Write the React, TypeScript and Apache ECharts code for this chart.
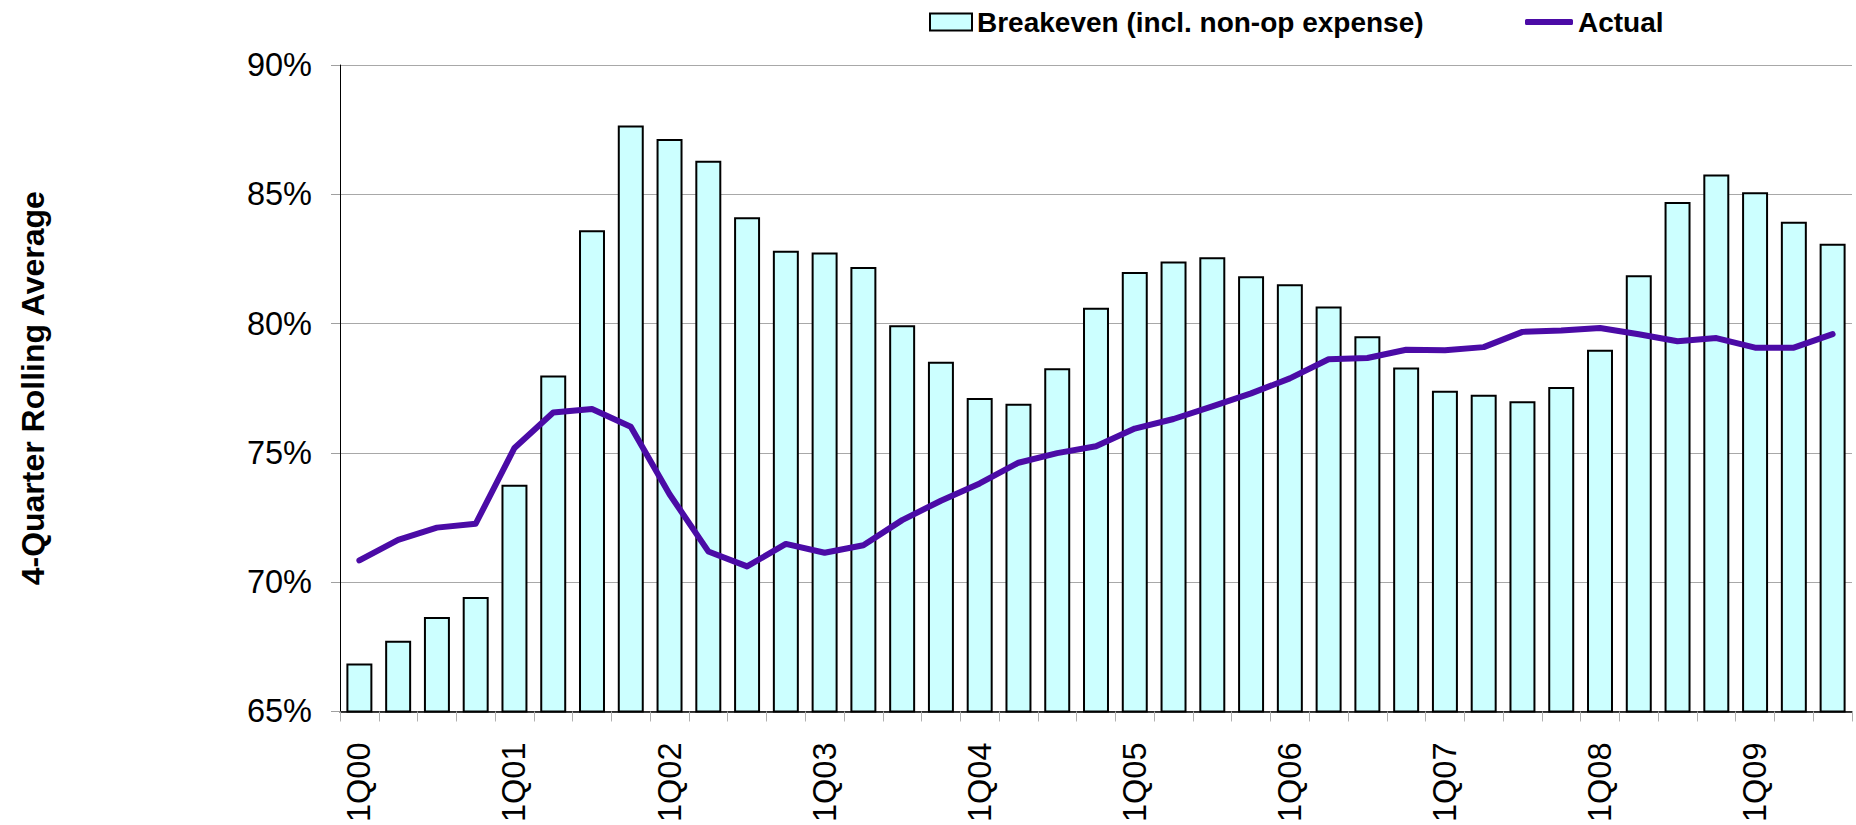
import React, { useEffect, useRef } from "react";
import * as echarts from "echarts";

const quarters = [
  "1Q00", "2Q00", "3Q00", "4Q00",
  "1Q01", "2Q01", "3Q01", "4Q01",
  "1Q02", "2Q02", "3Q02", "4Q02",
  "1Q03", "2Q03", "3Q03", "4Q03",
  "1Q04", "2Q04", "3Q04", "4Q04",
  "1Q05", "2Q05", "3Q05", "4Q05",
  "1Q06", "2Q06", "3Q06", "4Q06",
  "1Q07", "2Q07", "3Q07", "4Q07",
  "1Q08", "2Q08", "3Q08", "4Q08",
  "1Q09", "2Q09", "3Q09",
];

const breakevenName = "Breakeven (incl. non-op expense)";
const actualName = "Actual";

const breakeven = [
  66.86, 67.74, 68.65, 69.43,
  73.77, 77.99, 83.61, 87.66,
  87.14, 86.3, 84.11, 82.82,
  82.75, 82.19, 79.94, 78.52,
  77.12, 76.9, 78.27, 80.61,
  82.0, 82.4, 82.57, 81.83,
  81.52, 80.66, 79.51, 78.3,
  77.4, 77.25, 77.0, 77.55,
  78.99, 81.87, 84.7, 85.77,
  85.08, 83.94, 83.09,
];

const actual = [
  70.84, 71.64, 72.11, 72.26,
  75.19, 76.56, 76.7, 76.01,
  73.4, 71.19, 70.61, 71.48,
  71.14, 71.43, 72.4, 73.15,
  73.82, 74.62, 74.99, 75.26,
  75.94, 76.31, 76.8, 77.3,
  77.88, 78.62, 78.67, 78.99,
  78.97, 79.09, 79.68, 79.73,
  79.83, 79.59, 79.32, 79.44,
  79.07, 79.07, 79.59,
];

const yTicks = { min: 65, max: 90, step: 5 };
const yAxisTitle = "4-Quarter Rolling Average";

const FONT = "'Liberation Sans', Arial, sans-serif";
const PURPLE = "#4B0BA6";

export default function App() {
  const ref = useRef<HTMLDivElement>(null);

  useEffect(() => {
    if (!ref.current) return;
    const chart = echarts.init(ref.current, undefined, { renderer: "svg" });
    const legendText = {
      fontSize: 28,
      fontWeight: "bold" as const,
      color: "#000",
      fontFamily: FONT,
    };
    chart.setOption({
      animation: false,
      backgroundColor: "#fff",
      textStyle: { fontFamily: FONT },
      legend: [
        {
          data: [{ name: breakevenName, icon: "rect" }],
          left: 929,
          top: 8,
          padding: 0,
          itemWidth: 42,
          itemHeight: 17,
          textStyle: legendText,
          selectedMode: false,
        },
        {
          data: [
            {
              name: actualName,
              icon: "roundRect",
              itemStyle: { color: PURPLE, borderWidth: 0 },
            },
          ],
          left: 1525,
          top: 8,
          padding: 0,
          itemWidth: 48,
          itemHeight: 6,
          textStyle: legendText,
          selectedMode: false,
        },
      ],
      grid: { left: 340, right: 4, top: 65, bottom: 112, containLabel: false },
      xAxis: {
        type: "category",
        data: quarters,
        boundaryGap: true,
        axisLine: { show: true, lineStyle: { color: "#000", width: 1.5 } },
        axisTick: {
          show: true,
          interval: 0,
          length: 10,
          lineStyle: { color: "#b0b0b0", width: 1 },
        },
        axisLabel: {
          interval: 3,
          rotate: 90,
          margin: 31,
          fontSize: 32.5,
          color: "#000",
          fontFamily: FONT,
        },
        splitLine: { show: false },
      },
      yAxis: {
        type: "value",
        min: yTicks.min,
        max: yTicks.max,
        interval: yTicks.step,
        name: yAxisTitle,
        nameLocation: "middle",
        nameRotate: 90,
        nameGap: 291,
        nameTextStyle: {
          fontSize: 32,
          fontWeight: "bold",
          color: "#000",
          fontFamily: FONT,
        },
        axisLine: { show: true, lineStyle: { color: "#000", width: 1 } },
        axisTick: {
          show: true,
          length: 9,
          lineStyle: { color: "#a0a0a0", width: 1 },
        },
        axisLabel: {
          formatter: "{value}%",
          margin: 28,
          fontSize: 32.5,
          color: "#000",
          fontFamily: FONT,
        },
        splitLine: { show: true, lineStyle: { color: "#a8a8a8", width: 1 } },
      },
      series: [
        {
          name: breakevenName,
          type: "bar",
          data: breakeven,
          barCategoryGap: "33%",
          itemStyle: {
            color: "#CCFFFF",
            borderColor: "#000",
            borderWidth: 2,
          },
          z: 2,
        },
        {
          name: actualName,
          type: "line",
          data: actual,
          symbol: "none",
          showSymbol: false,
          lineStyle: {
            color: PURPLE,
            width: 6,
            cap: "round",
            join: "round",
          },
          itemStyle: { color: PURPLE },
          z: 3,
        },
      ],
    });
    return () => chart.dispose();
  }, []);

  return (
    <div
      ref={ref}
      style={{ position: "fixed", left: 0, top: 0, width: 1856, height: 825 }}
    />
  );
}
